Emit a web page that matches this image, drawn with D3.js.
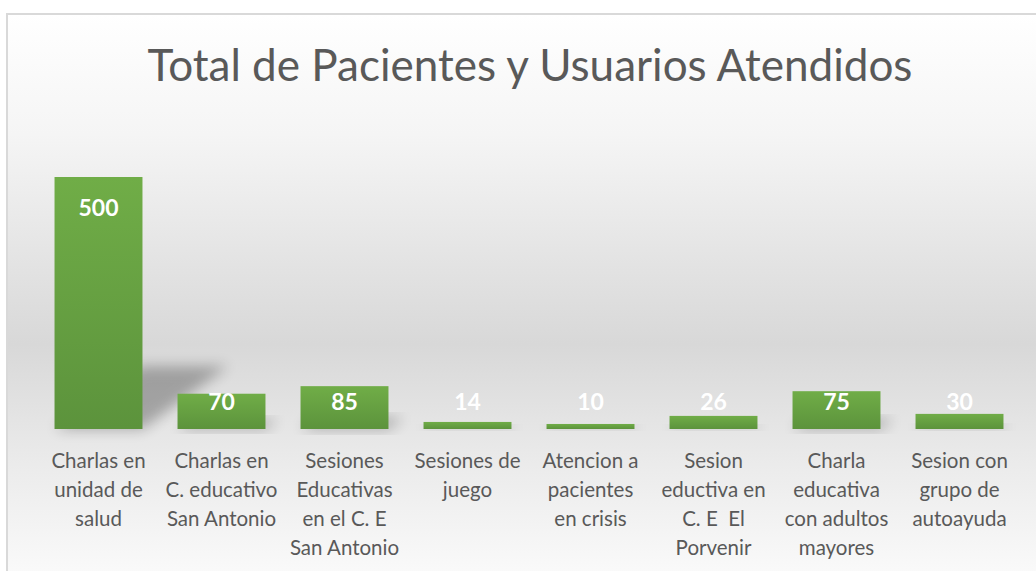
<!DOCTYPE html>
<html>
<head>
<meta charset="utf-8">
<script src="https://cdn.jsdelivr.net/npm/d3@7"></script>
<style>
  body { margin: 0; background: #fff; }
  svg { display: block; }
</style>
</head>
<body>
<script>
// datos del grafico
var categorias = [
  ["Charlas en", "unidad de", "salud"],
  ["Charlas en", "C. educativo", "San Antonio"],
  ["Sesiones", "Educativas", "en el C. E", "San Antonio"],
  ["Sesiones de", "juego"],
  ["Atencion a", "pacientes", "en crisis"],
  ["Sesion", "eductiva en", "C. E  El", "Porvenir"],
  ["Charla", "educativa", "con adultos", "mayores"],
  ["Sesion con", "grupo de", "autoayuda"]
];
var valores = [500, 70, 85, 14, 10, 26, 75, 30];
var titulo = "Total de Pacientes y Usuarios Atendidos";

var width = 1036, height = 571;
var baseY = 429, topY = 177;

var svg = d3.select("body").append("svg")
  .attr("width", width)
  .attr("height", height);

var defs = svg.append("defs");

// fondo gris con degradado
var bg = defs.append("linearGradient").attr("id", "fondo")
  .attr("x1", 0).attr("y1", 0).attr("x2", 0).attr("y2", 1);
bg.append("stop").attr("offset", "0%").attr("stop-color", "#ffffff");
bg.append("stop").attr("offset", "20%").attr("stop-color", "#f5f5f5");
bg.append("stop").attr("offset", "55%").attr("stop-color", "#d8d8d8");
bg.append("stop").attr("offset", "75%").attr("stop-color", "#ebebeb");
bg.append("stop").attr("offset", "100%").attr("stop-color", "#ffffff");

var barGrad = defs.append("linearGradient").attr("id", "barra")
  .attr("x1", 0).attr("y1", 0).attr("x2", 0).attr("y2", 1);
barGrad.append("stop").attr("offset", "0%").attr("stop-color", "#70ad47");
barGrad.append("stop").attr("offset", "100%").attr("stop-color", "#5c933c");

var blur = defs.append("filter").attr("id", "sombra")
  .attr("x", "-50%").attr("y", "-50%").attr("width", "200%").attr("height", "200%");
blur.append("feGaussianBlur").attr("stdDeviation", 7);

svg.append("rect")
  .attr("x", 7).attr("y", 14)
  .attr("width", 1060).attr("height", 600)
  .attr("fill", "url(#fondo)")
  .attr("stroke", "#d9d9d9")
  .attr("stroke-width", 2);

// titulo
var t = svg.append("text")
  .attr("x", 530).attr("y", 81)
  .attr("text-anchor", "middle")
  .attr("font-family", "Lato")
  .attr("font-weight", 400)
  .attr("font-size", 44)
  .attr("fill", "#595959")
  .text(titulo);
var tw = t.node().getComputedTextLength();
t.attr("font-size", 44 * 765 / tw);

// escalas
var x = d3.scaleBand()
  .domain(d3.range(valores.length))
  .range([37, 37 + 123 * valores.length])
  .paddingInner(0.285)
  .paddingOuter(0.1425);

var y = d3.scaleLinear()
  .domain([0, 500])
  .range([baseY, topY]);

// sombras en perspectiva
svg.append("g").selectAll("path")
  .data(valores)
  .enter()
  .append("path")
  .attr("d", function(d, i) {
    var x0 = x(i), x1 = x(i) + x.bandwidth();
    var h = baseY - y(d);
    var dx = Math.max(h * 0.34, 4), dy = Math.max(h * 0.25, 3);
    return "M" + x0 + "," + baseY + "L" + x1 + "," + baseY +
      "L" + (x1 + dx) + "," + (baseY - dy) + "L" + (x0 + dx) + "," + (baseY - dy) + "Z";
  })
  .attr("fill", "#000")
  .attr("opacity", 0.28)
  .attr("filter", "url(#sombra)");

// barras
svg.append("g").selectAll("rect")
  .data(valores)
  .enter()
  .append("rect")
  .attr("x", function(d, i) { return x(i); })
  .attr("y", function(d) { return y(d); })
  .attr("width", x.bandwidth())
  .attr("height", function(d) { return baseY - y(d); })
  .attr("fill", "url(#barra)");

// etiquetas de datos
svg.append("g").selectAll("text")
  .data(valores)
  .enter()
  .append("text")
  .attr("x", function(d, i) { return x(i) + x.bandwidth() / 2; })
  .attr("y", function(d) { return Math.min(y(d) + 31, baseY - 27) + 8; })
  .attr("text-anchor", "middle")
  .attr("font-family", "Lato")
  .attr("font-weight", 700)
  .attr("font-size", 23)
  .attr("fill", "#ffffff")
  .text(function(d) { return d; });

// etiquetas del eje x
var ejeX = svg.append("g").attr("transform", "translate(0," + baseY + ")")
  .call(d3.axisBottom(x).tickSize(0).tickFormat(""));
ejeX.select(".domain").remove();

ejeX.selectAll(".tick").each(function(i) {
  var tx = d3.select(this).append("text")
    .attr("text-anchor", "middle")
    .attr("font-family", "Lato")
    .attr("font-size", 20.5)
    .attr("fill", "#595959");
  categorias[i].forEach(function(linea, k) {
    tx.append("tspan")
      .attr("x", 0)
      .attr("y", 39 + k * 29)
      .attr("xml:space", "preserve")
      .text(linea);
  });
});
</script>
</body>
</html>
